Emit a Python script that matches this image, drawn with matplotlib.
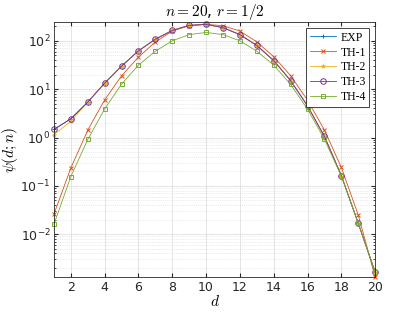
import matplotlib
matplotlib.use("Agg")
import matplotlib.pyplot as plt
import numpy as np
from matplotlib.ticker import FuncFormatter, LogLocator, NullFormatter

plt.rcParams['mathtext.fontset'] = 'cm'
plt.rcParams['font.family'] = 'DejaVu Sans'

d = list(range(1, 21))

exp_vals = [1.47, 2.44, 5.4, 13.3, 30, 62, 108, 164, 208, 219,
            187, 134, 80, 39, 15, 4.5, 1.05, 0.163, 0.0168, 0.00163]
th1 = [0.026, 0.235, 1.42, 6.0, 18.9, 46, 95, 159, 205, 219,
       205, 159, 95, 47, 19.0, 5.9, 1.43, 0.24, 0.025, 0.0013]
th2 = [1.14, 2.17, 5.4, 13.3, 30, 62, 108, 164, 208, 219,
       187, 134, 80, 39, 15, 4.5, 1.05, 0.163, 0.0168, 0.00163]
th3 = [1.47, 2.44, 5.4, 13.3, 30, 62, 108, 164, 208, 219,
       187, 134, 80, 39, 15, 4.5, 1.05, 0.163, 0.0168, 0.00163]
th4 = [0.016, 0.156, 0.91, 3.9, 12.7, 31.4, 61, 100, 134, 149,
       134, 100, 61, 31.4, 12.5, 3.85, 0.92, 0.158, 0.0168, 0.00165]

labels = ['EXP', 'TH-1', 'TH-2', 'TH-3', 'TH-4']
colors = ['#0072BD', '#D95319', '#EDB120', '#7E2F8E', '#77AC30']

fig = plt.figure(figsize=(4.15, 3.12), dpi=100)
ax = fig.add_axes([0.130, 0.112, 0.774, 0.817])

ax.plot(d, exp_vals, color=colors[0], marker='+', ms=3.5, lw=0.6, mew=0.7, label=labels[0], clip_on=False)
ax.plot(d, th1, color=colors[1], marker='x', ms=2.8, lw=0.6, mew=0.7, label=labels[1], clip_on=False)
ax.plot(d, th2, color=colors[2], marker='*', ms=3.2, lw=0.6, mew=0.5, label=labels[2], clip_on=False)
ax.plot(d, th3, color=colors[3], marker='o', ms=4, lw=0.6, mew=0.7, mfc='none', label=labels[3], clip_on=False)
ax.plot(d, th4, color=colors[4], marker='s', ms=2.8, lw=0.6, mew=0.7, mfc='none', label=labels[4], clip_on=False)

ax.set_yscale('log')
ax.set_xlim(1, 20)
ax.set_ylim(1.3e-3, 243)
ax.set_xticks(range(2, 21, 2))
ax.yaxis.set_major_locator(LogLocator(base=10, numticks=10))
ax.yaxis.set_minor_locator(LogLocator(base=10, subs=np.arange(2, 10), numticks=10))
ax.yaxis.set_minor_formatter(NullFormatter())
ax.yaxis.set_major_formatter(FuncFormatter(lambda v, p: r'$\mathregular{10^{%d}}$' % round(np.log10(v))))

ax.grid(True, which='major', color='#e0e0e0', lw=0.6)
ax.grid(True, which='minor', axis='y', color='#d8d8d8', lw=0.5, ls=':')
ax.set_axisbelow(True)
ax.tick_params(which='both', direction='in', top=True, right=True, labelsize=9, colors='#262626')
ax.tick_params(which='major', length=3, pad=2.5)
ax.tick_params(which='minor', length=1.5)
for s in ax.spines.values():
    s.set_color('#262626')
    s.set_linewidth(0.6)

ax.set_title(r'$n = 20$, $r = 1/2$', fontsize=11, pad=3)
ax.set_xlabel(r'$d$', fontsize=11, labelpad=0)
ax.set_ylabel(r'$\psi(d;n)$', fontsize=11)
ax.yaxis.set_label_coords(-0.105, 0.5)

leg = ax.legend(loc='upper right', prop={'family': 'Liberation Serif', 'size': 8.5},
                fancybox=False, edgecolor='#262626', framealpha=1,
                handlelength=2.2, borderpad=0.3, labelspacing=0.25, handletextpad=0.4,
                borderaxespad=0.5)
leg.get_frame().set_linewidth(0.6)

fig.savefig('out.png', dpi=100)
